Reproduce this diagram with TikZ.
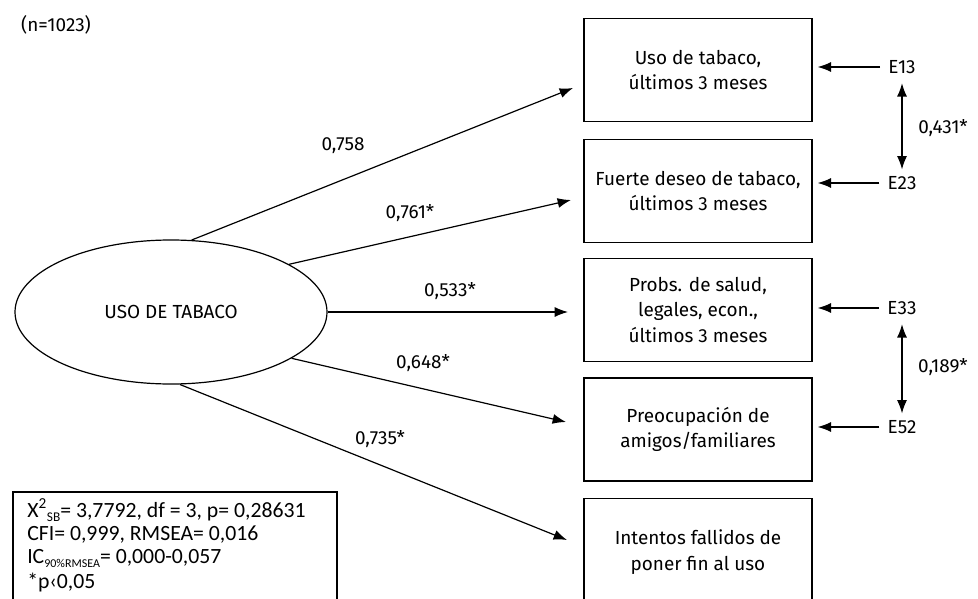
\documentclass[tikz,border=0pt]{standalone}
\usepackage{fontspec}
\setmainfont{Fira Sans}
\newfontfamily\statfont{Carlito}
\usetikzlibrary{shapes.geometric,arrows.meta}
\begin{document}
\begin{tikzpicture}[x=0.75pt,y=-0.75pt,
  every node/.style={font=\fontsize{14.2}{19}\selectfont},
  ind/.style={draw,line width=1pt,minimum width=171pt,minimum height=77.25pt,align=center,inner sep=0pt},
  lat/.style={draw,line width=0.9pt,ellipse,minimum width=234pt,minimum height=108pt,inner sep=0pt},
  conn/.style={line width=0.9pt,-{Latex[length=10pt,width=7.5pt]}},
  dconn/.style={line width=0.9pt,{Latex[length=10pt,width=7.5pt]}-{Latex[length=10pt,width=7.5pt]}},
  lbl/.style={inner sep=0pt},
  stat/.style={inner sep=0pt,anchor=base west,font=\statfont\fontsize{16.3}{18}\selectfont}]
\useasboundingbox (0,0) rectangle (978,599);
\node[lbl] (n) at (56,25) {(n=1023)};
% latent
\node[lat] (L) at (171,312) {USO DE TABACO};
% indicators
\node[ind] (b1) at (698,70) {Uso de tabaco,\\últimos 3 meses};
\node[ind] (b2) at (698,191) {Fuerte deseo de tabaco,\\últimos 3 meses};
\node[ind] (b3) at (698,310) {Probs. de salud,\\legales, econ.,\\últimos 3 meses};
\node[ind] (b4) at (698,429.5) {Preocupación de\\amigos/familiares};
\node[ind,text depth=0pt] (b5) at (698,550) {\raisebox{12pt}{\begin{tabular}{@{}c@{}}Intentos fallidos de\\poner fin al uso\end{tabular}}};
% arrow tips
\coordinate (t1) at (573,88);
\coordinate (t2) at (571,200);
\coordinate (t3) at (568,312);
\coordinate (t4) at (566,422);
\coordinate (t5) at (567,540);
\draw[conn] (L.74.5) -- (t1);
\draw[conn] (L.22.9) -- (t2);
\draw[conn] (L.east) -- (t3);
\draw[conn] (L.-21.2) -- (t4);
\draw[conn] (L.-83.7) -- (t5);
% loadings
\node[lbl] (l1) at (343,146) {0,758};
\node[lbl] (l2) at (410,213) {0,761*};
\node[lbl] (l3) at (450,291) {0,533*};
\node[lbl] (l4) at (423,363) {0,648*};
\node[lbl] (l5) at (380,439) {0,735*};
% errors
\node[lbl] (e1) at (902,67) {E13};
\node[lbl] (e2) at (902,183) {E23};
\node[lbl] (e3) at (902,308) {E33};
\node[lbl] (e4) at (902,427) {E52};
\draw[conn,shorten <=6pt,shorten >=3.75pt] (e1.west) -- (e1.west -| b1.east);
\draw[conn,shorten <=6pt,shorten >=3.75pt] (e2.west) -- (e2.west -| b2.east);
\draw[conn,shorten <=6pt,shorten >=3.75pt] (e3.west) -- (e3.west -| b3.east);
\draw[conn,shorten <=6pt,shorten >=3.75pt] (e4.west) -- (e4.west -| b4.east);
\draw[dconn,shorten <=7pt,shorten >=5pt] (e1.south) -- (e2.north);
\draw[dconn,shorten <=7pt,shorten >=5pt] (e3.south) -- (e4.north);
\node[lbl] (c1) at (943,128) {0,431*};
\node[lbl] (c2) at (943,367) {0,189*};
% fit box
\draw[line width=1pt] (13,492) rectangle (337,610);
\node[stat] (s1) at (27,517) {X\textsuperscript{2}\raisebox{-3.5pt}{\fontsize{10}{10}\selectfont SB}= 3,7792, df = 3, p= 0,28631};
\node[stat] (s2) at (27,540) {CFI= 0,999, RMSEA= 0,016};
\node[stat] (s3) at (27,563) {IC\raisebox{-3.5pt}{\fontsize{9}{9}\selectfont 90\%RMSEA}= 0,000-0,057};
\node[stat] (s4) at (27,588) {*p‹0,05};
\end{tikzpicture}
\end{document}
